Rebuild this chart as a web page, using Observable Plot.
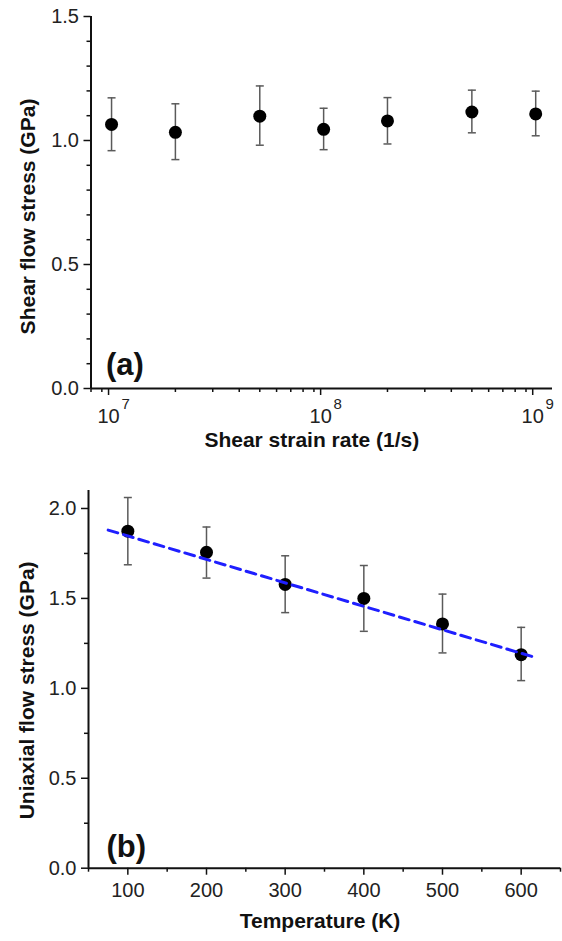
<!DOCTYPE html>
<html>
<head>
<meta charset="utf-8">
<script src="https://cdn.jsdelivr.net/npm/d3@7"></script>
<script src="https://cdn.jsdelivr.net/npm/@observablehq/plot@0.6"></script>
<style>
  html, body { margin: 0; padding: 0; background: #fff; }
  #chart { width: 562px; }
  #chart svg { display: block; }
</style>
</head>
<body>
<div id="chart"></div>
<script>
// ---------- Panel (a) data ----------
const rateX = [1e7, 2e7, 5e7, 1e8, 2e8, 5e8, 1e9];
const shearStress = [1.065, 1.033, 1.098, 1.045, 1.079, 1.115, 1.107];
const shearHi = [1.172, 1.148, 1.220, 1.130, 1.173, 1.203, 1.199];
const shearLo = [0.959, 0.923, 0.981, 0.963, 0.986, 1.031, 1.019];
const rateMajor = [1e7, 1e8, 1e9];
const rateExponents = ["7", "8", "9"];
const rateMinor = [8e6, 9e6, 2e7, 3e7, 4e7, 5e7, 6e7, 7e7, 8e7, 9e7, 2e8, 3e8, 4e8, 5e8, 6e8, 7e8, 8e8, 9e8];
const shearYTicks = [0, 0.5, 1.0, 1.5];
const shearYMinor = [0.1, 0.2, 0.3, 0.4, 0.6, 0.7, 0.8, 0.9, 1.1, 1.2, 1.3, 1.4];

// ---------- Panel (b) data ----------
const tempX = [100, 200, 300, 400, 500, 600];
const uniStress = [1.874, 1.756, 1.578, 1.500, 1.358, 1.187];
const uniHi = [2.061, 1.897, 1.737, 1.683, 1.524, 1.339];
const uniLo = [1.687, 1.613, 1.421, 1.317, 1.197, 1.043];
const fitT = [75, 620];
const fitStress = [1.880, 1.169];
const tempTicks = [100, 200, 300, 400, 500, 600];
const tempMinor = [50, 150, 250, 350, 450, 550, 650];
const uniYTicks = [0, 0.5, 1.0, 1.5, 2.0];
const uniYMinor = [0.25, 0.75, 1.25, 1.75];

const font = "'Liberation Sans', Arial, Helvetica, sans-serif";
const tickFs = 20;
const titleFs = 21;
const errColor = "#5a5a5a";

const capSymbol = {
  draw(ctx, size) {
    const r = Math.sqrt(size / Math.PI);
    ctx.moveTo(-r, 0);
    ctx.lineTo(r, 0);
  }
};

const shear = rateX.map((x, i) => ({x, y: shearStress[i], hi: shearHi[i], lo: shearLo[i]}));
const uni = tempX.map((x, i) => ({x, y: uniStress[i], hi: uniHi[i], lo: uniLo[i]}));
const fit = fitT.map((x, i) => ({x, y: fitStress[i]}));

const style = {fontFamily: font, fontSize: tickFs + "px", color: "#111", background: "#fff", overflow: "visible"};

const plotA = Plot.plot({
  width: 562,
  height: 470,
  marginLeft: 90.5,
  marginRight: 10,
  marginTop: 16,
  marginBottom: 82,
  style,
  x: {type: "log", domain: [8e6, 1.2e9]},
  y: {domain: [0, 1.5]},
  marks: [
    Plot.axisY(shearYMinor, {tickSize: 4, tickFormat: () => "", label: null, strokeWidth: 1.5}),
    Plot.axisY(shearYTicks, {tickSize: 7, tickPadding: 5, tickFormat: d => d.toFixed(1), label: null, fontSize: tickFs, strokeWidth: 1.5, fill: "#222"}),
    Plot.axisX(rateMinor, {tickSize: 4, tickFormat: () => "", label: null, strokeWidth: 1.5}),
    Plot.axisX(rateMajor, {tickSize: 7, tickPadding: 13, tickFormat: () => "10", dx: -3, label: null, fontSize: tickFs, strokeWidth: 1.5, fill: "#222"}),
    Plot.text(rateMajor, {x: d => d, text: (d, i) => rateExponents[i], frameAnchor: "bottom", dx: 14, dy: 20, fontSize: 15, fill: "#222"}),
    Plot.ruleX([8e6], {strokeWidth: 2}),
    Plot.ruleY([0], {strokeWidth: 2}),
    Plot.ruleX(shear, {x: "x", y1: "lo", y2: "hi", stroke: errColor, strokeWidth: 1.5}),
    Plot.dot(shear, {x: "x", y: "hi", symbol: capSymbol, r: 4, stroke: errColor, strokeWidth: 1.5, fill: "none"}),
    Plot.dot(shear, {x: "x", y: "lo", symbol: capSymbol, r: 4, stroke: errColor, strokeWidth: 1.5, fill: "none"}),
    Plot.dot(shear, {x: "x", y: "y", r: 6.5, fill: "#000", stroke: "none"}),
    Plot.text(["Shear flow stress (GPa)"], {frameAnchor: "left", textAnchor: "middle", lineAnchor: "middle", dx: -63, dy: 14, rotate: -90, fontWeight: "bold", fontSize: titleFs, fill: "#111"}),
    Plot.text(["Shear strain rate (1/s)"], {frameAnchor: "bottom", textAnchor: "middle", dx: -10, dy: 58, fontWeight: "bold", fontSize: titleFs, fill: "#111"}),
    Plot.text(["(a)"], {frameAnchor: "bottom-left", textAnchor: "start", lineAnchor: "bottom", dx: 15, dy: -14, fontWeight: "bold", fontSize: 31, fill: "#111"})
  ]
});

const plotB = Plot.plot({
  width: 562,
  height: 471,
  marginLeft: 88,
  marginRight: 2,
  marginTop: 20,
  marginBottom: 73.3,
  style,
  x: {domain: [50, 650]},
  y: {domain: [0, 2.1]},
  marks: [
    Plot.axisY(uniYMinor, {tickSize: 4, tickFormat: () => "", label: null, strokeWidth: 1.5}),
    Plot.axisY(uniYTicks, {tickSize: 7, tickPadding: 5, tickFormat: d => d.toFixed(1), label: null, fontSize: tickFs, strokeWidth: 1.5, fill: "#222"}),
    Plot.axisX(tempMinor, {tickSize: 4, tickFormat: () => "", label: null, strokeWidth: 1.5}),
    Plot.axisX(tempTicks, {tickSize: 7, tickPadding: 8, tickFormat: d => String(d), label: null, fontSize: tickFs, strokeWidth: 1.5, fill: "#222"}),
    Plot.ruleX([50], {strokeWidth: 2}),
    Plot.ruleY([0], {strokeWidth: 2}),
    Plot.ruleX(uni, {x: "x", y1: "lo", y2: "hi", stroke: errColor, strokeWidth: 1.5}),
    Plot.dot(uni, {x: "x", y: "hi", symbol: capSymbol, r: 4, stroke: errColor, strokeWidth: 1.5, fill: "none"}),
    Plot.dot(uni, {x: "x", y: "lo", symbol: capSymbol, r: 4, stroke: errColor, strokeWidth: 1.5, fill: "none"}),
    Plot.dot(uni, {x: "x", y: "y", r: 6.5, fill: "#000", stroke: "none"}),
    Plot.line(fit, {x: "x", y: "y", stroke: "#1f1fff", strokeWidth: 3, strokeDasharray: "10,6"}),
    Plot.text(["Uniaxial flow stress (GPa)"], {frameAnchor: "left", textAnchor: "middle", lineAnchor: "middle", dx: -61, dy: 11, rotate: -90, fontWeight: "bold", fontSize: titleFs, fill: "#111"}),
    Plot.text(["Temperature (K)"], {frameAnchor: "bottom", textAnchor: "middle", dx: -4.5, dy: 60, fontWeight: "bold", fontSize: titleFs, fill: "#111"}),
    Plot.text(["(b)"], {frameAnchor: "bottom-left", textAnchor: "start", lineAnchor: "bottom", dx: 18, dy: -11, fontWeight: "bold", fontSize: 31, fill: "#111"})
  ]
});

document.getElementById("chart").append(plotA, plotB);
</script>
</body>
</html>
